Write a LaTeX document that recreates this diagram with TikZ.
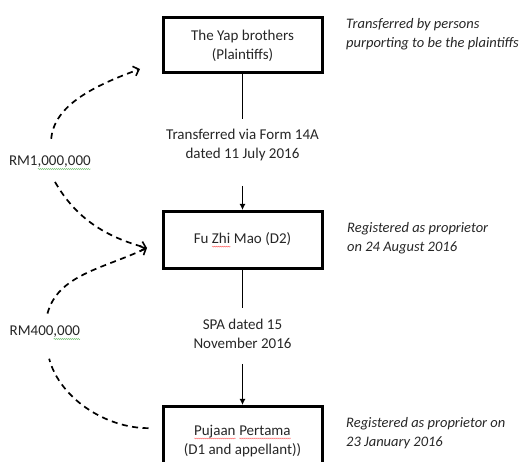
\documentclass[tikz,border=0pt]{standalone}
\usepackage{fontspec}
\setmainfont{Carlito}
\usetikzlibrary{arrows.meta,decorations.pathmorphing}

% spell-check wave under a word
\newcommand{\wavy}[2]{\setbox0=\hbox{#2}\rlap{\copy0}\tikz[baseline=0pt]\draw[#1, line width=0.3pt, decorate, decoration={snake, amplitude=0.6pt, segment length=2pt}] (0pt,-3pt) -- (\wd0,-3pt);}

\tikzset{
  party/.style={draw, line width=3pt, minimum width=159pt, minimum height=55pt, align=center, inner sep=0pt},
  deed/.style={align=center},
  note/.style={font=\fontsize{14.5}{19}\selectfont\itshape, align=left, anchor=west, inner sep=0pt},
  money/.style={line width=1.7pt, dash pattern=on 6pt off 4.5pt, -{Straight Barb[length=5pt,width=10pt,line width=1.6pt]}},
}

\begin{document}
\begin{tikzpicture}[x=1pt, y=1pt, font=\fontsize{15}{19}\selectfont, text=black!85]
\clip (0,0) rectangle (522,462);

% Parties
\node[party] (yap) at (242.5,416.5) {The Yap brothers\\(Plaintiffs)};
\node[party, minimum height=57pt] (fu) at (242.5,222) {Fu \wavy{red!70}{Zhi} Mao (D2)};
\node[party, minimum height=69pt] (pujaan) at (242.5,21) {\wavy{red!70}{Pujaan} \wavy{red!70}{Pertama}\\(D1 and appellant))};

% Transfers
\node[deed] (form) at (242.5,317) {Transferred via Form 14A\\dated 11 July 2016};
\node[deed] (spa) at (242.5,128.5) {SPA dated 15\\November 2016};
\draw[line width=1.5pt, shorten >=6.5pt] (yap.south) -- (form.north);
\draw[line width=1.5pt, -{Latex[length=6pt,width=6pt]}, shorten <=21.5pt] (form.south) -- (fu.north);
\draw[line width=1.5pt, shorten >=7pt] (fu.south) -- (spa.north);
\draw[line width=1.5pt, -{Latex[length=6pt,width=6pt]}, shorten <=12pt] (spa.south) -- (pujaan.north);

% Notes on the right
\node[note] (n1) at (346,428) {Transferred by persons\\purporting to be the plaintiffs};
\node[note] (n2) at (347,224) {Registered as proprietor\\on 24 August 2016};
\node[note] (n3) at (346,29) {Registered as proprietor on\\23 January 2016};

% Payments
\node (rm1) at (50,299) {RM1\wavy{green!55!black!70}{,000,000}};
\node (rm4) at (45,129) {RM400\wavy{green!55!black!70}{,000}};
\coordinate (tipyap) at (140,393);
\coordinate (tipfu) at (147,214);
\draw[money, shorten <=14pt] (rm1.north) to[out=85, in=200] (tipyap);
\draw[money, shorten <=10pt] (rm1.south) to[out=-60, in=165] (tipfu);
\draw[money, -, shorten <=13pt, shorten >=16pt] (pujaan.171) to[out=180, in=-75] (rm4.south);
\draw[money, shorten <=9.5pt] (rm4.north) to[out=75, in=205] (tipfu);

\end{tikzpicture}
\end{document}
